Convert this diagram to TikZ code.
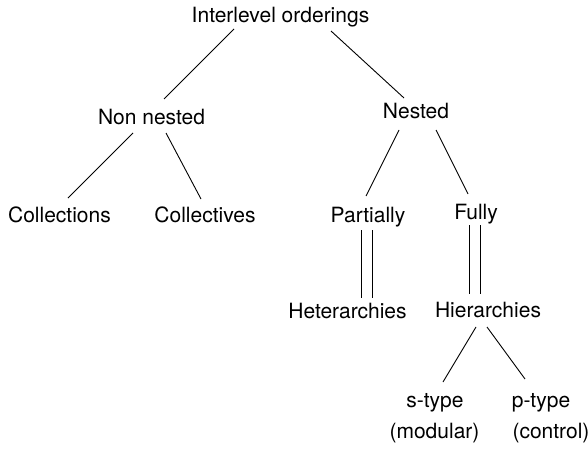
\documentclass[tikz,border=0pt]{standalone}
\usepackage{fontspec}
\setmainfont{TeX Gyre Heros}

\begin{document}
\begin{tikzpicture}[
    x=0.5pt, y=-0.5pt,
    term/.style={anchor=base, inner sep=0pt, font=\fontsize{10.5}{12}\selectfont},
    link/.style={line width=0.45pt},
    twin/.style={double, line width=0.5pt, double distance=5pt}
]
    \useasboundingbox (0,0) rectangle (588,449);
    % levels of the tree
    \node[term] (root) at (280.5,23) {Interlevel orderings};
    \node[term] (nonnest) at (151.5,125) {Non nested};
    \node[term] (nest) at (416,118.5) {Nested};
    \node[term] (colls) at (59.5,222) {Collections};
    \node[term] (collv) at (205,222) {Collectives};
    \node[term] (part) at (368,222) {Partially};
    \node[term] (full) at (476,219) {Fully};
    \node[term] (heter) at (347.5,318) {Heterarchies};
    \node[term] (hier) at (488,317) {Hierarchies};
    \node[term] (stype) at (435,407) {s-type};
    \node[term] (smod) at (434.5,438) {(modular)};
    \node[term] (ptype) at (541,407) {p-type};
    \node[term] (pctl) at (551,438) {(control)};
    % branches
    \draw[link] ([shift={(-46.5,6)}]root.base) -- ([shift={(12.5,-26)}]nonnest.base);
    \draw[link] ([shift={(50.5,8)}]root.base) -- ([shift={(-12,-20.5)}]nest.base);
    \draw[link] ([shift={(-18.5,8)}]nonnest.base) -- ([shift={(8.5,-24)}]colls.base);
    \draw[link] ([shift={(14.5,8)}]nonnest.base) -- ([shift={(-4,-23)}]collv.base);
    \draw[link] ([shift={(-17,11.5)}]nest.base) -- ([shift={(-2,-26)}]part.base);
    \draw[link] ([shift={(20,11.5)}]nest.base) -- ([shift={(-8,-25)}]full.base);
    \draw[twin] ([shift={(-1.5,8)}]part.base) -- ([shift={(19,-20)}]heter.base);
    \draw[twin] ([shift={(-1.5,6)}]full.base) -- ([shift={(-13.5,-23)}]hier.base);
    \draw[link] ([shift={(-12,10)}]hier.base) -- ([shift={(8,-25)}]stype.base);
    \draw[link] ([shift={(-1,10)}]hier.base) -- ([shift={(-16,-28)}]ptype.base);
\end{tikzpicture}
\end{document}
